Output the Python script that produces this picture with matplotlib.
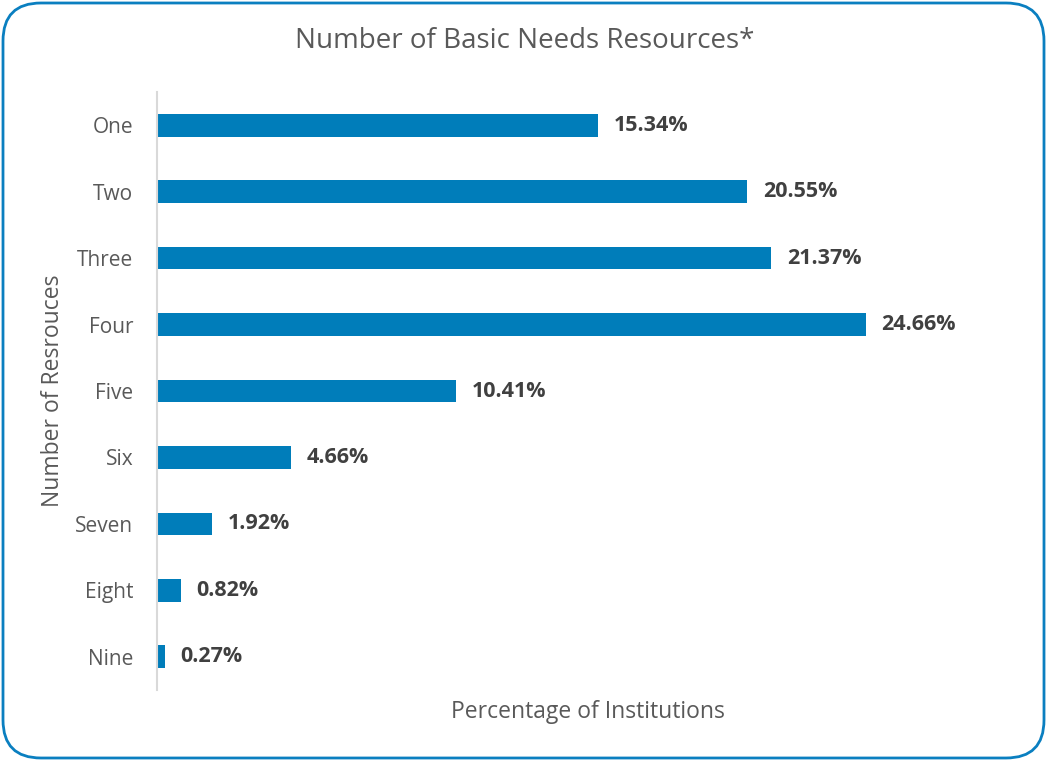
import matplotlib
matplotlib.use("Agg")
import matplotlib.pyplot as plt
from matplotlib.patches import FancyBboxPatch
from matplotlib.transforms import IdentityTransform

categories = ["One", "Two", "Three", "Four", "Five", "Six", "Seven", "Eight", "Nine"]
values = [15.34, 20.55, 21.37, 24.66, 10.41, 4.66, 1.92, 0.82, 0.27]
labels = ["15.34%", "20.55%", "21.37%", "24.66%", "10.41%", "4.66%", "1.92%", "0.82%", "0.27%"]

plt.rcParams['font.family'] = ['Open Sans', 'DejaVu Sans']

fig = plt.figure(figsize=(10.47, 7.61), dpi=100)
ax = fig.add_axes([157/1047, 71/761, (1019-157)/1047, (690-92)/761])

y = list(range(len(categories)))
ax.barh(y, values, height=0.34, color="#007DBA")
for yi, v, lab in zip(y, values, labels):
    ax.text(v + 0.55, yi, lab, va="center", ha="left", fontsize=15.5, fontweight="bold", color="#404040")

ax.set_ylim(len(categories) - 0.5, -0.5)
ax.set_xlim(0, 30)
ax.set_yticks(y)
ax.set_yticklabels(categories, fontsize=15, color="#595959")
ax.set_xticks([])
ax.tick_params(axis="y", length=0, pad=17)
for s in ["top", "right", "bottom"]:
    ax.spines[s].set_visible(False)
ax.spines["left"].set_color("#D9D9D9")
ax.spines["left"].set_linewidth(1.5)

fig.text(588/1047, 1 - 712/761, "Percentage of Institutions", ha="center", va="center",
         fontsize=16.5, color="#595959")
fig.text(53/1047, 1 - 391/761, "Number of Resrouces", ha="center", va="center", rotation=90,
         fontsize=16.5, color="#595959")
fig.text(525/1047, 1 - 41/761, "Number of Basic Needs Resources*", ha="center", va="center",
         fontsize=20, color="#595959")

border = FancyBboxPatch((3, 3), 1041, 755,
                        boxstyle="round,pad=0,rounding_size=38",
                        transform=IdentityTransform(), fill=False, edgecolor="#0A7FC0", linewidth=2)
fig.patches.append(border)

fig.savefig("out.png", dpi=100)
